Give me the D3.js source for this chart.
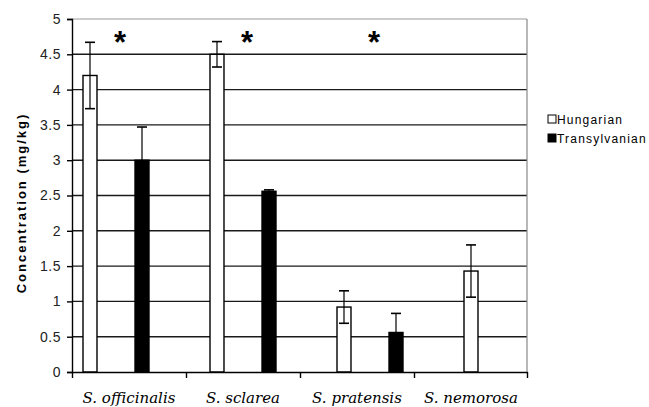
<!DOCTYPE html>
<html>
  <head>
    <meta charset="utf-8">
    <script type="text/javascript" src="https://cdn.jsdelivr.net/npm/d3@7"></script>
    <style>
      body { margin: 0; background: #fff; }
      .tick text { font-family: Arial, "Liberation Sans", sans-serif; font-size: 14px; fill: #222; letter-spacing: 0.5px; }
      .xlab { font-family: "DejaVu Serif", serif; font-style: italic; font-size: 15px; fill: #000; }
      .ylab { font-family: Arial, "Liberation Sans", sans-serif; font-weight: bold; font-size: 13px; letter-spacing: 2px; }
      .legend { font-family: Arial, "Liberation Sans", sans-serif; font-size: 12px; letter-spacing: 1.2px; }
    </style>
  </head>
  <body>
    <script type="text/javascript">
      // Data
      var species = ["S. officinalis", "S. sclarea", "S. pratensis", "S. nemorosa"];
      var origins = ["Hungarian", "Transylvanian"];
      var hungarian = [4.2, 4.5, 0.92, 1.43];
      var hungarianErr = [0.47, 0.18, 0.23, 0.37];
      var transylvanian = [3.0, 2.56, 0.56, null];
      var transylvanianErr = [0.47, 0.02, 0.27, null];
      var significant = [true, true, true, false];
      var yTicks = [0, 0.5, 1, 1.5, 2, 2.5, 3, 3.5, 4, 4.5, 5];

      var width = 649;
      var height = 407;
      var plotLeft = 72, plotRight = 527, plotTop = 19, plotBottom = 372;

      var svg = d3.select("body")
                  .append("svg")
                  .attr("width", width)
                  .attr("height", height);

      // Scales
      var y = d3.scaleLinear().domain([0, 5]).range([plotBottom, plotTop]);

      // category boundaries (axis ticks) and label positions
      var xTick = d3.scaleBand().domain(species).range([plotLeft, plotRight + 1]);
      // bar clusters sit on a slightly wider step than the tick marks
      var x0 = d3.scaleBand().domain(species).range([56, 564]);
      var x1 = d3.scaleBand().domain(origins).range([27, 93]).paddingInner(0.731);

      // Build table for bars
      var rows = [];
      species.forEach(function(s, i) {
        rows.push({ sp: s, origin: "Hungarian", value: hungarian[i], err: hungarianErr[i] });
        if (transylvanian[i] != null) {
          rows.push({ sp: s, origin: "Transylvanian", value: transylvanian[i], err: transylvanianErr[i] });
        }
      });

      // Gridlines
      svg.append("g")
         .selectAll("line")
         .data(yTicks.filter(function(d) { return d > 0; }))
         .enter()
         .append("line")
         .attr("x1", plotLeft)
         .attr("x2", plotRight)
         .attr("y1", function(d) { return y(d); })
         .attr("y2", function(d) { return y(d); })
         .attr("stroke", function(d) { return d === 5 ? "#999" : "#1a1a1a"; })
         .attr("stroke-width", function(d) { return d === 5 ? 1.2 : 1.4; });

      // Right border of plot area
      svg.append("line")
         .attr("x1", plotRight).attr("x2", plotRight)
         .attr("y1", y(5)).attr("y2", y(0))
         .attr("stroke", "#888")
         .attr("stroke-width", 1.2);

      // Bars
      svg.append("g")
         .selectAll("rect")
         .data(rows)
         .enter()
         .append("rect")
         .attr("x", function(d) { return x0(d.sp) + x1(d.origin); })
         .attr("y", function(d) { return y(d.value); })
         .attr("width", x1.bandwidth())
         .attr("height", function(d) { return y(0) - y(d.value); })
         .attr("fill", function(d) { return d.origin === "Hungarian" ? "#fff" : "#000"; })
         .attr("stroke", "#000")
         .attr("stroke-width", 1.4);

      // Error bars
      var errs = svg.append("g")
                    .selectAll("g")
                    .data(rows)
                    .enter()
                    .append("g")
                    .attr("stroke", "#000")
                    .attr("stroke-width", 1.2);
      var cx = function(d) { return x0(d.sp) + x1(d.origin) + x1.bandwidth() / 2; };
      errs.append("line")
          .attr("x1", cx).attr("x2", cx)
          .attr("y1", function(d) { return y(d.value + d.err); })
          .attr("y2", function(d) { return y(d.value - d.err); });
      errs.append("line")
          .attr("x1", function(d) { return cx(d) - 5; })
          .attr("x2", function(d) { return cx(d) + 5; })
          .attr("y1", function(d) { return y(d.value + d.err); })
          .attr("y2", function(d) { return y(d.value + d.err); })
          .attr("stroke-width", 1.6);
      errs.append("line")
          .attr("x1", function(d) { return cx(d) - 5; })
          .attr("x2", function(d) { return cx(d) + 5; })
          .attr("y1", function(d) { return y(d.value - d.err); })
          .attr("y2", function(d) { return y(d.value - d.err); })
          .attr("stroke-width", 1.6);

      // Significance stars
      svg.append("g")
         .selectAll("text")
         .data(species.filter(function(s, i) { return significant[i]; }))
         .enter()
         .append("text")
         .attr("x", function(d) { return x0(d) + 64; })
         .attr("y", 53)
         .attr("text-anchor", "middle")
         .style("font-family", "Arial, 'Liberation Sans', sans-serif")
         .style("font-weight", "bold")
         .style("font-size", "31px")
         .text("*");

      // Y axis
      var yAxis = d3.axisLeft(y)
                    .tickValues(yTicks)
                    .tickSize(5)
                    .tickPadding(6)
                    .tickFormat(d3.format("~g"));
      var gy = svg.append("g")
                  .attr("transform", "translate(" + plotLeft + ",0)")
                  .call(yAxis);
      gy.select(".domain").attr("stroke", "#000").attr("stroke-width", 1.4);
      gy.selectAll(".tick line").attr("stroke", "#000").attr("stroke-width", 1.4);

      // X axis (tick marks at category boundaries)
      var boundaries = species.map(function(s) { return xTick(s); }).concat([plotRight]);
      var xLin = d3.scaleLinear().domain([plotLeft, plotRight]).range([plotLeft, plotRight]);
      var xAxis = d3.axisBottom(xLin)
                    .tickValues(boundaries)
                    .tickSize(6)
                    .tickSizeOuter(0)
                    .tickFormat("");
      var gx = svg.append("g")
                  .attr("transform", "translate(0," + plotBottom + ")")
                  .call(xAxis);
      gx.select(".domain").attr("stroke", "#000").attr("stroke-width", 1.4);
      gx.selectAll(".tick line").attr("stroke", "#000").attr("stroke-width", 1.4);

      // Category labels
      svg.append("g")
         .selectAll("text")
         .data(species)
         .enter()
         .append("text")
         .attr("class", "xlab")
         .attr("x", function(d) { return xTick(d) + xTick.bandwidth() / 2; })
         .attr("y", 403)
         .attr("text-anchor", "middle")
         .text(function(d) { return d; });

      // Y axis title
      svg.append("text")
         .attr("class", "ylab")
         .attr("transform", "translate(26," + 203 + ") rotate(-90)")
         .attr("text-anchor", "middle")
         .text("Concentration (mg/kg)");

      // Legend
      var legend = svg.append("g")
                      .selectAll("g")
                      .data(origins)
                      .enter()
                      .append("g")
                      .attr("transform", function(d, i) { return "translate(548," + (115 + i * 19) + ")"; });
      legend.append("rect")
            .attr("width", 8)
            .attr("height", 8)
            .attr("fill", function(d) { return d === "Hungarian" ? "#fff" : "#000"; })
            .attr("stroke", "#000")
            .attr("stroke-width", 1);
      legend.append("text")
            .attr("class", "legend")
            .attr("x", 9)
            .attr("y", 8.5)
            .text(function(d) { return d; });
    </script>
  </body>
</html>
